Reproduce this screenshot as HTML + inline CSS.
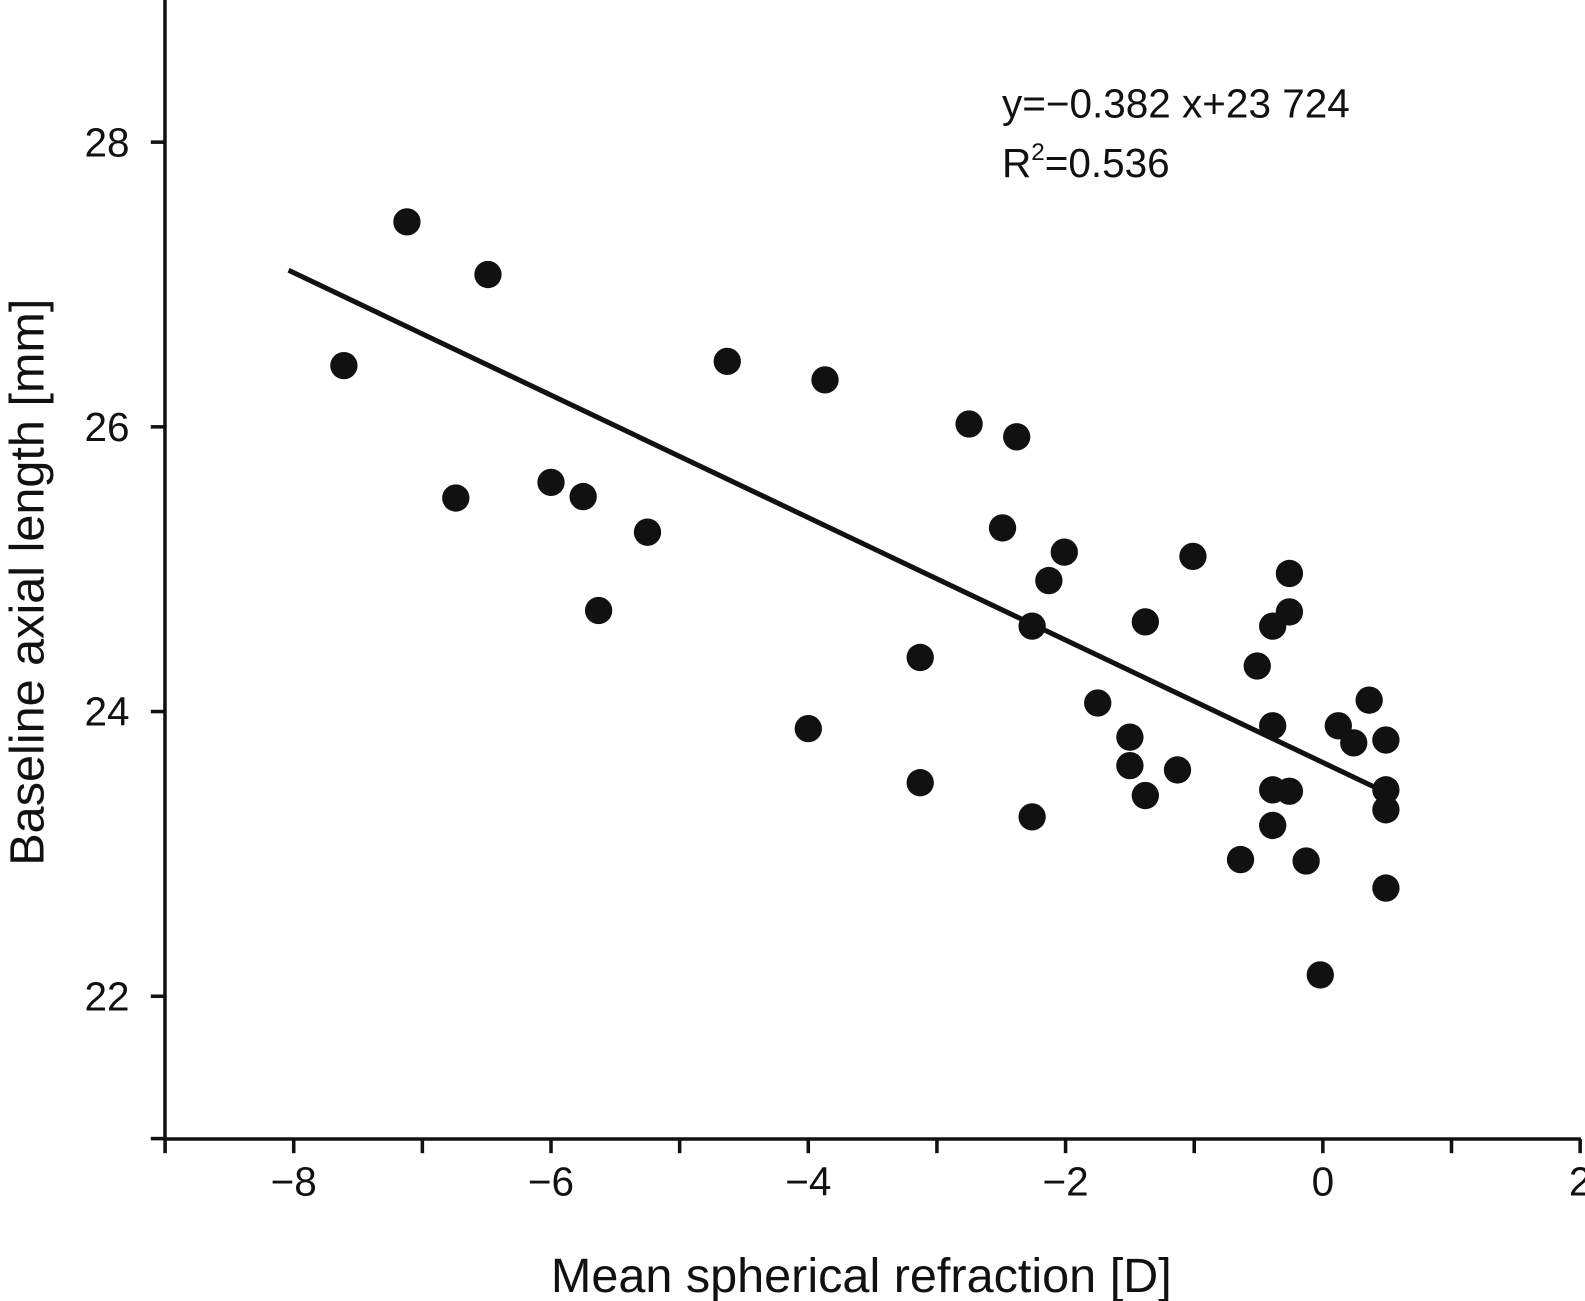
<!DOCTYPE html>
<html><head><meta charset="utf-8"><style>
html,body{margin:0;padding:0;background:#fff;}
svg{display:block;font-family:"Liberation Sans",sans-serif;}
</style></head><body>
<svg id="chart" width="1585" height="1301" viewBox="0 0 1566 1285" preserveAspectRatio="none">
<g id="axes"></g>
<g id="marks"></g>
<text x="990" y="116" font-size="40" fill="#111">y=−0.382 x+23 724</text>
<text x="990" y="175" font-size="40" fill="#111">R<tspan dy="-17" font-size="24">2</tspan><tspan dy="17">=0.536</tspan></text>
<text x="851" y="1276" font-size="48" text-anchor="middle" fill="#111">Mean spherical refraction [D]</text>
<text transform="translate(43,575) rotate(-90)" font-size="48" text-anchor="middle" fill="#111">Baseline axial length [mm]</text>
</svg>
<script>
const xs=[-7.61,-7.12,-6.74,-6.49,-6.0,-5.75,-5.63,-5.25,-4.63,-4.0,-3.87,-3.13,-3.13,-2.75,-2.49,-2.38,-2.26,-2.26,-2.13,-2.01,-1.75,-1.50,-1.50,-1.38,-1.38,-1.13,-1.01,-0.64,-0.51,-0.39,-0.39,-0.39,-0.39,-0.26,-0.26,-0.26,-0.13,-0.02,0.12,0.24,0.36,0.49,0.49,0.49,0.49];
const ys=[26.43,27.44,25.50,27.07,25.61,25.51,24.71,25.26,26.46,23.88,26.33,24.38,23.50,26.02,25.29,25.93,24.60,23.26,24.92,25.12,24.06,23.82,23.62,24.63,23.41,23.59,25.09,22.96,24.32,24.60,23.90,23.45,23.20,24.97,24.70,23.44,22.95,22.15,23.90,23.78,24.08,23.80,23.45,23.31,22.76];
const fitX=[-8.04,0.4];
const fitY=[27.1,23.47];
const xTicks=[-8,-6,-4,-2,0,2];
const xTickLabels=["−8","−6","−4","−2","0","2"];
const xMinor=[-9,-7,-5,-3,-1,1];
const yTicks=[22,24,26,28];
const yTickLabels=["22","24","26","28"];
const yMinor=[21];
const X=v=>1307+127.1*v;
const Y=v=>984-140.6*(v-22);
const NS="http://www.w3.org/2000/svg";
function mk(tag,attrs,parent){const e=document.createElementNS(NS,tag);for(const k in attrs)e.setAttribute(k,attrs[k]);parent.appendChild(e);return e;}
const ax=document.getElementById('axes');
let l=mk('line',{x1:163,y1:0,x2:163,y2:1125,stroke:'#111','stroke-width':3.5},ax);


l=mk('line',{x1:161.5,y1:1125,x2:1562,y2:1125,stroke:'#111','stroke-width':3.5},ax);


xTicks.forEach((v,i)=>{
 const t=mk('line',{x1:X(v),y1:1125,x2:X(v),y2:1139,stroke:'#111','stroke-width':3.5},ax);
 
 
 const tx=mk('text',{x:X(v),y:1181,'font-size':40,'text-anchor':'middle',fill:'#111'},ax);
 tx.textContent=xTickLabels[i];
 
 
});
xMinor.forEach(v=>{
 const t=mk('line',{x1:X(v),y1:1125,x2:X(v),y2:1139,stroke:'#111','stroke-width':3.5},ax);
 
 
});
yTicks.forEach((v,i)=>{
 const t=mk('line',{x1:149,y1:Y(v),x2:163,y2:Y(v),stroke:'#111','stroke-width':3.5},ax);
 
 
 const tx=mk('text',{x:128,y:Y(v)+14,'font-size':40,'text-anchor':'end',fill:'#111'},ax);
 tx.textContent=yTickLabels[i];
 
 
});
yMinor.forEach(v=>{
 const t=mk('line',{x1:149,y1:Y(v),x2:163,y2:Y(v),stroke:'#111','stroke-width':3.5},ax);
 
 
});
const mg=document.getElementById('marks');
const fl=mk('line',{x1:X(fitX[0]),y1:Y(fitY[0]),x2:X(fitX[1]),y2:Y(fitY[1]),stroke:'#111','stroke-width':5},mg);


xs.forEach((v,i)=>{
 const c=mk('circle',{cx:X(v),cy:Y(ys[i]),r:13.5,fill:'#111'},mg);
 
 
});
</script>
</body></html>
